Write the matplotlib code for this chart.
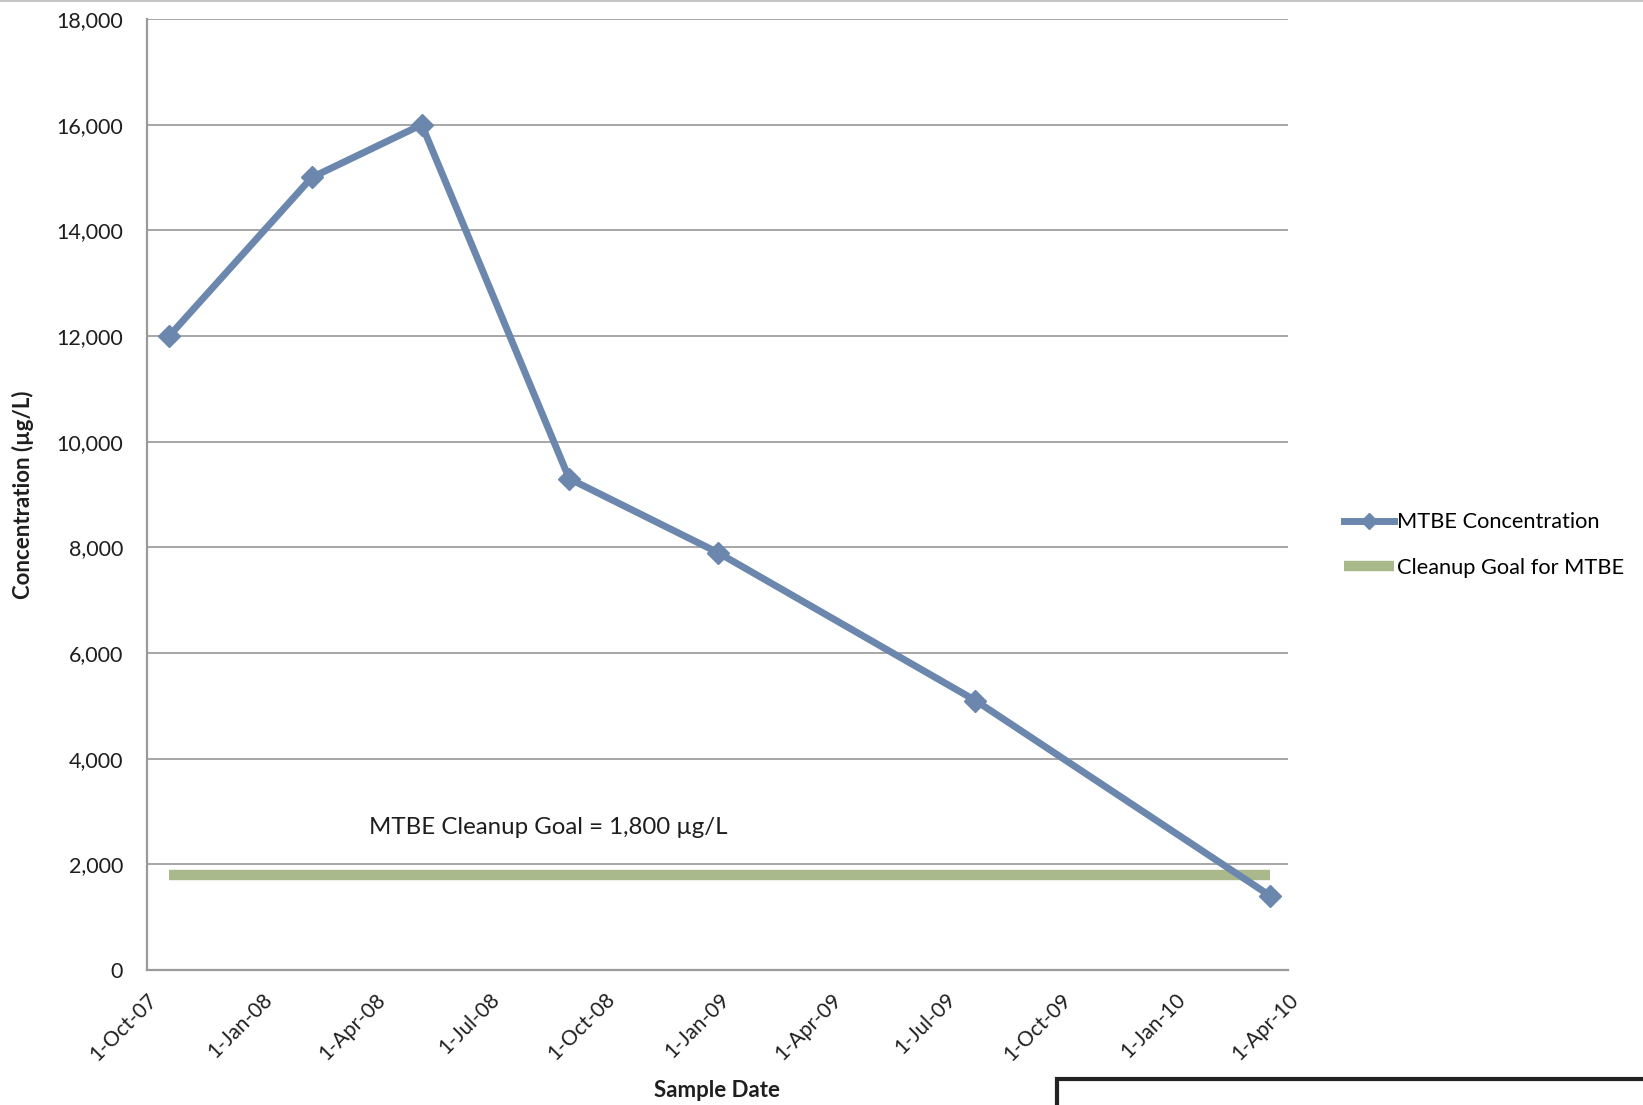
import matplotlib
matplotlib.use("Agg")
import matplotlib.pyplot as plt
from matplotlib.lines import Line2D
from matplotlib.patches import Rectangle
import numpy as np

plt.rcParams['font.family'] = ['Lato', 'DejaVu Sans']

# Sampling results
sample_dates = ["2007-10-19", "2008-02-10", "2008-05-08", "2008-09-03",
                "2008-12-31", "2009-07-25", "2010-03-18"]
mtbe_conc = [12000, 15000, 16000, 9300, 7900, 5100, 1400]
cleanup_goal = 1800

x_ticks = ["2007-10-01", "2008-01-01", "2008-04-01", "2008-07-01", "2008-10-01",
           "2009-01-01", "2009-04-01", "2009-07-01", "2009-10-01", "2010-01-01",
           "2010-04-01"]
x_tick_labels = ["1-Oct-07", "1-Jan-08", "1-Apr-08", "1-Jul-08", "1-Oct-08",
                 "1-Jan-09", "1-Apr-09", "1-Jul-09", "1-Oct-09", "1-Jan-10",
                 "1-Apr-10"]
y_ticks = [0, 2000, 4000, 6000, 8000, 10000, 12000, 14000, 16000, 18000]

dates = np.array(sample_dates, dtype="datetime64[D]")
tick_dates = np.array(x_ticks, dtype="datetime64[D]")

blue = "#6B87AD"
green = "#AAB98B"
grid_gray = "#A6A6A6"
axis_gray = "#9A9A9A"
text_col = "#1e1e1e"

fig = plt.figure(figsize=(16.43, 11.05), dpi=100)
ax = fig.add_axes([0.0893, 0.1222, 0.6946, 0.8606])

ax.set_xlim(tick_dates[0], tick_dates[-1])
ax.set_ylim(0, 18000)

# Horizontal gridlines
ax.set_yticks(y_ticks)
ax.yaxis.grid(True, color=grid_gray, linewidth=1.4)
ax.set_axisbelow(True)

# Cleanup goal spans the sampling period
ax.plot([dates[0], dates[-1]], [cleanup_goal, cleanup_goal], color=green,
        linewidth=7.5, solid_capstyle='butt', label="Cleanup Goal for MTBE",
        zorder=2)
ax.plot(dates, mtbe_conc, color=blue, linewidth=5, marker='D', markersize=11.5,
        markerfacecolor=blue, markeredgecolor=blue, label="MTBE Concentration",
        zorder=3)

ax.set_xticks(tick_dates)
ax.set_xticklabels(x_tick_labels, rotation=45, ha='right', va='top',
                   rotation_mode='anchor', fontsize=15, color=text_col)
ax.set_yticklabels([f"{v:,}" for v in y_ticks], fontsize=15.5, color=text_col)
ax.tick_params(axis='both', length=0)
ax.tick_params(axis='y', pad=17)
ax.tick_params(axis='x', pad=14)

for side in ("top", "right"):
    ax.spines[side].set_visible(False)
for side in ("left", "bottom"):
    ax.spines[side].set_color(axis_gray)
    ax.spines[side].set_linewidth(1.6)

ax.set_xlabel("Sample Date", fontsize=16, fontweight='bold', color=text_col)
ax.set_ylabel("Concentration (µg/L)", fontsize=16, fontweight='bold',
              color=text_col)
ax.xaxis.set_label_coords(0.5, -0.116)
ax.yaxis.set_label_coords(-0.099, 0.5)

ax.text(0.1948, 0.150, "MTBE Cleanup Goal = 1,800 µg/L", transform=ax.transAxes,
        fontsize=17.3, ha='left', va='center', color=text_col)

handles, labels = ax.get_legend_handles_labels()
order = [1, 0]
fig.legend([handles[i] for i in order], [labels[i] for i in order],
           loc='center left', bbox_to_anchor=(0.806, 0.5067), frameon=False,
           fontsize=15.7, handlelength=2.3, handletextpad=0.15,
           labelspacing=1.17, markerscale=0.75)

# Page rule along the top edge and the box at the lower right
fig.add_artist(Line2D([0, 1], [1 - 1.0 / 1105, 1 - 1.0 / 1105],
                      transform=fig.transFigure, color="#BBBBBB", linewidth=1.2))
fig.add_artist(Rectangle((1057 / 1643, -0.2), 1.0, 0.2 + 1 - 1079 / 1105,
                         transform=fig.transFigure, fill=False,
                         edgecolor="#222222", linewidth=3))

fig.savefig("out.png", dpi=100)
